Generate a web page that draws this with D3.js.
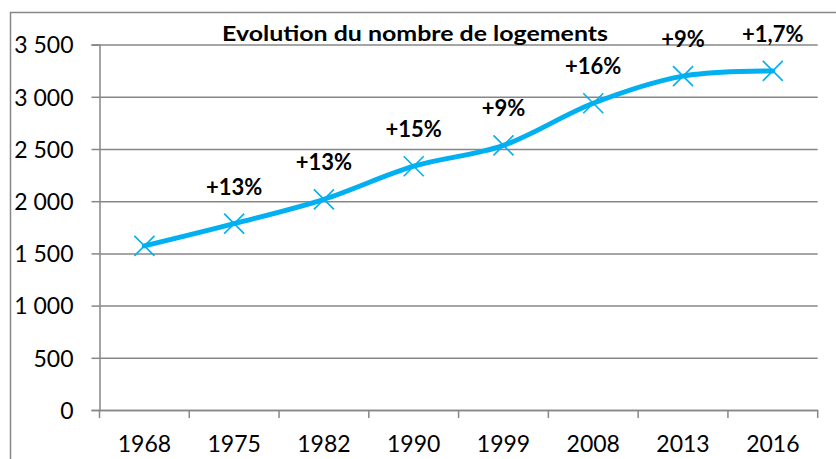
<!DOCTYPE html>
<html><head><meta charset="utf-8">
<script src="https://cdn.jsdelivr.net/npm/d3@7"></script>
<style>
html,body{margin:0;padding:0;background:#fff;}
svg{display:block;}
text{font-family:Lato, "Open Sans", sans-serif;}
</style></head>
<body>
<svg id="c" width="836" height="459"></svg>
<script>
const categories = ["1968","1975","1982","1990","1999","2008","2013","2016"];
const logements = [1572, 1785, 2018, 2335, 2535, 2938, 3198, 3248];
const growthLabels = ["", "+13%", "+13%", "+15%", "+9%", "+16%", "+9%", "+1,7%"];
const yTicks = [0, 500, 1000, 1500, 2000, 2500, 3000, 3500];
const title = "Evolution du nombre de logements";

const svg = d3.select("#c");
const pLeft = 99.5, pRight = 817.7, pTop = 44.6, pBottom = 410;
const x = d3.scaleBand().domain(categories).range([pLeft, pRight]);
const y = d3.scaleLinear().domain([0, 3500]).range([pBottom, pTop]);
const fmt = d3.formatLocale({decimal: ",", thousands: "\u00a0", grouping: [3], currency: ["", "€"]}).format(",d");
const grey = "#878787";
const blue = "#00B0F0";

// outer frame
svg.append("rect").attr("x", 10.5).attr("y", 12.5).attr("width", 900).attr("height", 600)
  .attr("fill", "none").attr("stroke", grey).attr("stroke-width", 1.5);

// gridlines
const grid = svg.append("g").attr("transform", `translate(${pLeft},0)`)
  .call(d3.axisLeft(y).tickValues(yTicks).tickSize(-(pRight - pLeft)).tickFormat(""));
grid.select(".domain").remove();
grid.selectAll("line").attr("stroke", grey).attr("stroke-width", 1.5);

// y axis
const ya = svg.append("g").attr("transform", `translate(${pLeft},0)`)
  .call(d3.axisLeft(y).tickValues(yTicks).tickSize(8).tickPadding(18).tickFormat(fmt));
ya.select(".domain").attr("stroke", grey).attr("stroke-width", 1.5);
ya.selectAll("line").attr("stroke", grey).attr("stroke-width", 1.5);
ya.selectAll("text").attr("font-size", 23).attr("fill", "#000").attr("dy", "0.36em");

// x axis
const xa = svg.append("g").attr("transform", `translate(0,${pBottom})`)
  .call(d3.axisBottom(x).tickSize(0).tickPadding(26));
xa.select(".domain").attr("stroke", grey).attr("stroke-width", 1.5);
xa.selectAll("text").attr("font-size", 23).attr("fill", "#000");
const bounds = categories.map(c => x(c)).concat([x(categories[categories.length - 1]) + x.bandwidth()]);
svg.append("g").selectAll("line").data(bounds).join("line")
  .attr("x1", d => d).attr("x2", d => d).attr("y1", pBottom).attr("y2", pBottom + 8)
  .attr("stroke", grey).attr("stroke-width", 1.5);

// line
const cx = c => x(c) + x.bandwidth() / 2;
const pts = categories.map((c, i) => [cx(c), y(logements[i])]);
svg.append("path").datum(pts)
  .attr("d", d3.line().curve(d3.curveCardinal.tension(0)))
  .attr("fill", "none").attr("stroke", blue).attr("stroke-width", 5).attr("stroke-linecap", "round");

// markers
const m = 10;
svg.append("g").selectAll("path").data(pts).join("path")
  .attr("d", d => `M${d[0]-m},${d[1]-m}L${d[0]+m},${d[1]+m}M${d[0]-m},${d[1]+m}L${d[0]+m},${d[1]-m}`)
  .attr("stroke", blue).attr("stroke-width", 1.6).attr("fill", "none");

// labels
svg.append("g").selectAll("text").data(categories).join("text")
  .attr("x", c => cx(c)).attr("y", (c, i) => y(logements[i]) - 29)
  .attr("text-anchor", "middle").attr("font-size", 22).attr("font-weight", "bold").attr("fill", "#000")
  .text((c, i) => growthLabels[i]);

// title
svg.append("text").attr("x", 415).attr("y", 40.5).attr("text-anchor", "middle")
  .attr("font-size", 20).attr("font-weight", "bold").attr("fill", "#000")
  .attr("textLength", 386).attr("lengthAdjust", "spacingAndGlyphs").text(title);
</script>
</body></html>
